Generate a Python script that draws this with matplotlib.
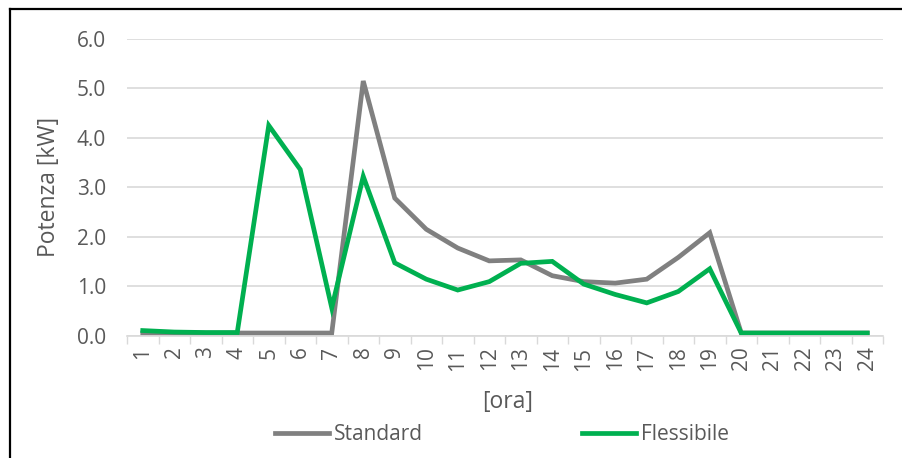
import numpy as np
import matplotlib.pyplot as plt
from matplotlib.lines import Line2D

plt.rcParams['font.family'] = ['Open Sans', 'DejaVu Sans']

ore = list(range(1, 25))
standard = [0.05, 0.05, 0.05, 0.05, 0.05, 0.05, 0.05, 5.15, 2.78, 2.15, 1.77, 1.51,
            1.53, 1.21, 1.09, 1.06, 1.14, 1.58, 2.08, 0.05, 0.05, 0.05, 0.05, 0.05]
flessibile = [0.1, 0.07, 0.06, 0.06, 4.25, 3.36, 0.56, 3.22, 1.47, 1.14, 0.92, 1.09,
              1.46, 1.50, 1.04, 0.83, 0.66, 0.89, 1.35, 0.05, 0.05, 0.05, 0.05, 0.05]

grigio = '#808080'
verde = '#00b050'
testo = '#595959'
griglia = '#d9d9d9'

fig = plt.figure(figsize=(9.02, 4.58), dpi=100)
ax = fig.add_axes([127/902, 1 - 335.5/458, 756/902, 296.5/458])

l1, = ax.plot(ore, standard, color=grigio, lw=3.4, solid_joinstyle='miter', label='Standard')
l2, = ax.plot(ore, flessibile, color=verde, lw=3.4, solid_joinstyle='miter', label='Flessibile')

ax.set_xlim(0.5, 24.5)
ax.set_ylim(0, 6)
ax.set_yticks(np.arange(0, 6.1, 1.0))
ax.set_yticklabels([f'{v:.1f}' for v in np.arange(0, 6.1, 1.0)])
ax.yaxis.grid(True, color=griglia, lw=1.2)
ax.set_axisbelow(True)

ax.set_xticks(ore)
ax.set_xticklabels([str(o) for o in ore], rotation=90)
ax.set_xticks(np.arange(0.5, 25, 1), minor=True)
ax.tick_params(axis='x', which='major', length=0, pad=8, labelsize=15, labelcolor=testo)
ax.tick_params(axis='x', which='minor', length=6, width=1, color=griglia)
ax.tick_params(axis='y', length=0, pad=15, labelsize=15, labelcolor=testo)

for s in ['top', 'right', 'left']:
    ax.spines[s].set_visible(False)
ax.spines['bottom'].set_color(griglia)
ax.spines['bottom'].set_linewidth(1.2)

ax.set_xlabel('[ora]', fontsize=16.5, color=testo)
ax.set_ylabel('Potenza [kW]', fontsize=16.5, color=testo)
ax.xaxis.set_label_coords(0.503, -0.185)
ax.yaxis.set_label_coords(-0.087, 0.5)

fig.legend(handles=[l1, l2], loc='center', bbox_to_anchor=(502/902, 1 - 435/458),
           ncol=2, frameon=False, fontsize=15, labelcolor=testo,
           handlelength=2.6, handletextpad=0.25, columnspacing=7.6)

# cornice esterna
fig.add_artist(Line2D([9.5/902, 9.5/902], [0, 1 - 8.5/458], transform=fig.transFigure,
                      color='black', lw=1.6))
fig.add_artist(Line2D([9.5/902, 1], [1 - 8.5/458, 1 - 8.5/458], transform=fig.transFigure,
                      color='black', lw=1.6))

fig.savefig('out.png', dpi=100)
